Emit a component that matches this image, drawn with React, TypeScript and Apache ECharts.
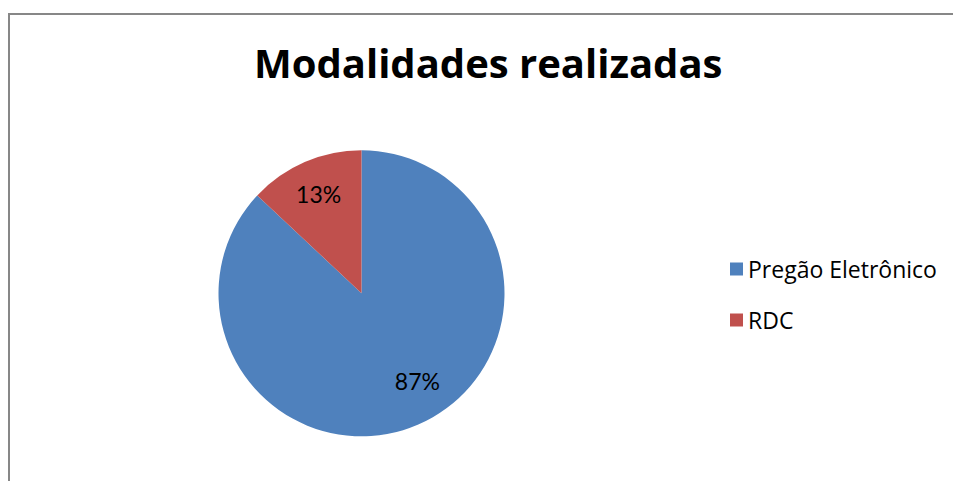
import React, { useEffect, useRef } from "react";
import * as echarts from "echarts";

const titleText = "Modalidades realizadas";
const categories = ["Pregão Eletrônico", "RDC"];
const values = [87, 13];
const colors = ["#4F81BD", "#C0504D"];

export default function App() {
  const ref = useRef<HTMLDivElement>(null);
  useEffect(() => {
    if (!ref.current) return;
    const chart = echarts.init(ref.current, undefined, { renderer: "svg" });
    const total = values.reduce((a, b) => a + b, 0);
    const pieData = categories.map((name, i) => ({
      name,
      value: values[i],
      itemStyle: { color: colors[i] },
    }));
    const labelOffsets = [[13, -11], [0, 0]];
    const ghostData = categories.map((name, i) => ({
      name,
      value: values[i],
      itemStyle: { color: "rgba(0,0,0,0)" },
      label: { offset: labelOffsets[i] },
    }));
    chart.setOption({
      animation: false,
      backgroundColor: "#ffffff",
      title: {
        text: titleText,
        left: 249,
        top: 37,
        textStyle: {
          fontFamily: "Open Sans",
          fontWeight: "bold",
          fontSize: 40,
          color: "#000000",
        },
      },
      legend: {
        orient: "vertical",
        left: 725,
        top: 252,
        padding: 5,
        icon: "rect",
        itemWidth: 13,
        itemHeight: 13,
        itemGap: 27,
        data: categories,
        textStyle: {
          fontFamily: "Open Sans",
          fontSize: 23,
          lineHeight: 24,
          color: "#000000",
        },
      },
      graphic: [
        {
          type: "rect",
          shape: { x: 9, y: 14, width: 1000, height: 1000 },
          style: { fill: "none", stroke: "#878787", lineWidth: 2 },
          silent: true,
          z: -1,
        },
      ],
      series: [
        {
          type: "pie",
          center: [361.5, 293.3],
          radius: [0, 143],
          startAngle: 90,
          clockwise: true,
          data: pieData,
          label: { show: false },
          labelLine: { show: false },
          itemStyle: { borderWidth: 0 },
          silent: true,
        },
        {
          type: "pie",
          center: [361.5, 293.3],
          radius: [0, 210],
          startAngle: 90,
          clockwise: true,
          data: ghostData,
          silent: true,
          legendHoverLink: false,
          itemStyle: { borderWidth: 0 },
          labelLine: { show: false },
          label: {
            show: true,
            position: "inside",
            formatter: (p: any) => Math.round((p.value / total) * 100) + "%",
            fontFamily: "Lato",
            fontSize: 23,
            color: "#000000",
          },
          z: 3,
        },
      ],
    });
    return () => chart.dispose();
  }, []);
  return (
    <div
      ref={ref}
      style={{ position: "absolute", left: 0, top: 0, width: 953, height: 481, background: "#fff" }}
    />
  );
}
